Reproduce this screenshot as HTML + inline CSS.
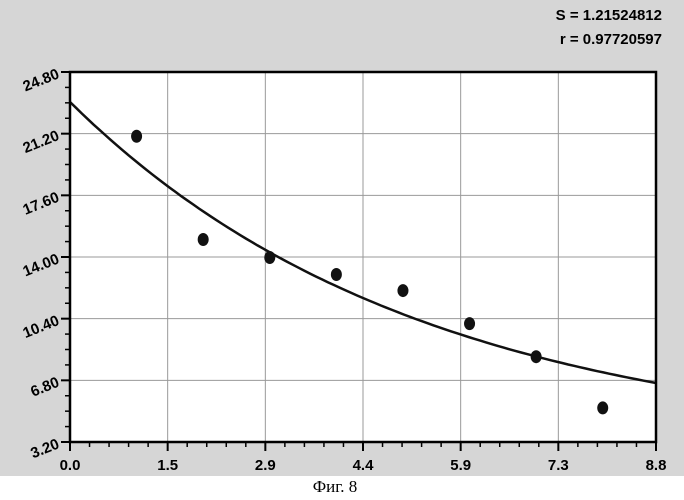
<!DOCTYPE html>
<html><head><meta charset="utf-8"><style>
body{margin:0;background:#fff;}
svg{display:block;font-family:"Liberation Sans",Arial,sans-serif;}
</style></head><body>
<svg width="684" height="500" viewBox="0 0 684 500">
<rect x="0" y="0" width="684" height="476" fill="#d6d6d6"/>
<rect x="70" y="72" width="586" height="370" fill="#fff"/>
<g id="grid"></g>
<g id="curve"></g>
<g id="pts"></g>
<rect x="70" y="72" width="586" height="370" fill="none" stroke="#000" stroke-width="2.5"/>
<g id="axes"></g>
<text x="662" y="20" text-anchor="end" font-size="15" font-weight="bold">S = 1.21524812</text>
<text x="662" y="44" text-anchor="end" font-size="15" font-weight="bold">r = 0.97720597</text>
<text x="335" y="492" text-anchor="middle" font-size="17" font-family="Liberation Serif,serif">Фиг. 8</text>
</svg>
<script>
const xTicks=["0.0","1.5","2.9","4.4","5.9","7.3","8.8"];
const yTicks=["3.20","6.80","10.40","14.00","17.60","21.20","24.80"];
const xs=[1,2,3,4,5,6,7,8];
const ys=[21.05,15.02,13.97,12.98,12.04,10.11,8.18,5.19];
const fitA=[20.2], fitB=[0.19], fitC=[2.85];
const X0=70,X1=656,Y0=442,Y1=72,xmin=0,xmax=8.8,ymin=3.2,ymax=24.8;
const sx=v=>X0+(v-xmin)/(xmax-xmin)*(X1-X0);
const sy=v=>Y0-(v-ymin)/(ymax-ymin)*(Y0-Y1);
const NS="http://www.w3.org/2000/svg";
function mk(t,a,p){const e=document.createElementNS(NS,t);for(const k in a)e.setAttribute(k,a[k]);p.appendChild(e);return e;}
const grid=document.getElementById('grid'),axes=document.getElementById('axes');
const nx=xTicks.length-1, ny=yTicks.length-1;
for(let i=0;i<=nx;i++){
 const x=X0+i*(X1-X0)/nx;
 if(i>0&&i<nx){const l=mk('line',{x1:x,y1:Y1,x2:x,y2:Y0,stroke:'#999','stroke-width':1},grid);
 
 }
 const t=mk('line',{x1:x,y1:Y0,x2:x,y2:Y0+9,stroke:'#000','stroke-width':2},axes);
 
 
 if(i<nx)for(let j=1;j<5;j++){const mx=x+j*(X1-X0)/nx/5;const m=mk('line',{x1:mx,y1:Y0,x2:mx,y2:Y0+5,stroke:'#000','stroke-width':1.5},axes);
 
 }
 const tx=mk('text',{x:x,y:Y0+28,'text-anchor':'middle','font-size':15,'font-weight':'bold'},axes);
 tx.textContent=xTicks[i];
 
 
}
for(let i=0;i<=ny;i++){
 const y=Y0-i*(Y0-Y1)/ny;
 if(i>0&&i<ny){const l=mk('line',{x1:X0,y1:y,x2:X1,y2:y,stroke:'#999','stroke-width':1},grid);
 
 }
 const t=mk('line',{x1:X0-9,y1:y,x2:X0,y2:y,stroke:'#000','stroke-width':2},axes);
 
 
 if(i<ny)for(let j=1;j<4;j++){const my=y-j*(Y0-Y1)/ny/4;const m=mk('line',{x1:X0-5,y1:my,x2:X0,y2:my,stroke:'#000','stroke-width':1.5},axes);
 
 }
 const tx=mk('text',{x:X0-12,y:y+6,'text-anchor':'end','font-size':15,'font-weight':'bold',transform:`rotate(-22 ${X0-12} ${y})`},axes);
 tx.textContent=yTicks[i];
 
 
}
let d='';
for(let k=0;k<=100;k++){const v=xmin+(xmax-xmin)*k/100;const f=fitA[0]*Math.exp(-fitB[0]*v)+fitC[0];d+=(k?'L':'M')+sx(v).toFixed(1)+','+sy(f).toFixed(1);}
const c=mk('path',{d:d,fill:'none',stroke:'#111','stroke-width':2.5},document.getElementById('curve'));


const pts=document.getElementById('pts');
xs.forEach((v,i)=>{const e=mk('ellipse',{cx:sx(v),cy:sy(ys[i]),rx:5.5,ry:6.5,fill:'#111'},pts);
 
 });
</script>
</body></html>
